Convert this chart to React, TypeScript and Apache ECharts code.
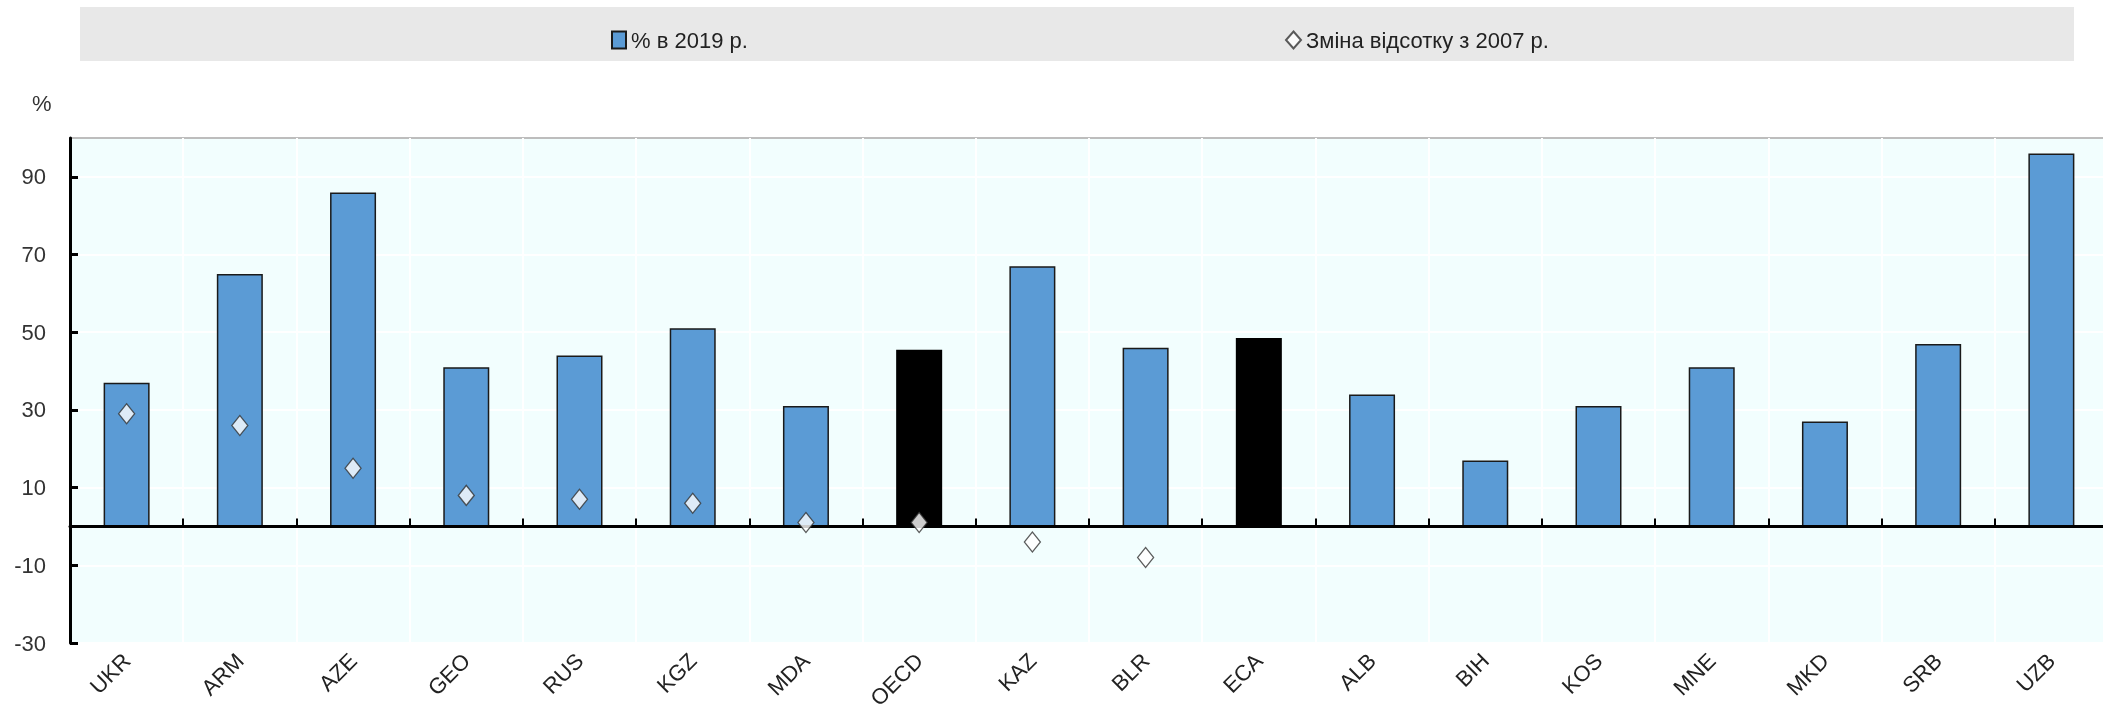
import React, { useEffect, useRef } from "react";
import * as echarts from "echarts";

const categories = ["UKR", "ARM", "AZE", "GEO", "RUS", "KGZ", "MDA", "OECD", "KAZ", "BLR", "ECA", "ALB", "BIH", "KOS", "MNE", "MKD", "SRB", "UZB"];
const share2019 = [37, 65, 86, 41, 44, 51, 31, 45.5, 67, 46, 48.5, 34, 17, 31, 41, 27, 47, 96];
const change2007: (number | null)[] = [29, 26, 15, 8, 7, 6, 1, 1, -4, -8, null, null, null, null, null, null, null, null];
const highlighted = ["OECD", "ECA"];
const yTicks = [-30, -10, 10, 30, 50, 70, 90];
const barName = "% в 2019 р.";
const pointName = "Зміна відсотку з 2007 р.";

const FONT = "'Liberation Sans Narrow', 'Arial Narrow', 'Liberation Sans', Arial, sans-serif";

export default function App() {
  const ref = useRef<HTMLDivElement>(null);
  useEffect(() => {
    if (!ref.current) return;
    const chart = echarts.init(ref.current, null, { renderer: "svg" });
    chart.setOption({
      animation: false,
      textStyle: { fontFamily: FONT },
      graphic: [
        { type: "rect", z: -1, shape: { x: 80, y: 7, width: 1994, height: 54 }, style: { fill: "#e8e8e8" } },
        { type: "text", x: 32, y: 92, style: { text: "%", fill: "#333", font: `22px ${FONT}` } },
      ],
      legend: [
        {
          data: [{ name: barName, icon: "rect" }],
          left: 606,
          top: 24,
          itemWidth: 14,
          itemHeight: 17,
          itemGap: 6,
          textStyle: { fontSize: 22, color: "#222", fontFamily: FONT },
        },
        {
          data: [pointName],
          left: 1280,
          top: 24,
          itemWidth: 15,
          itemHeight: 17,
          textStyle: { fontSize: 22, color: "#222", fontFamily: FONT },
        },
      ],
      grid: {
        left: 70,
        top: 138,
        width: 2038,
        height: 505,
        outerBoundsMode: "none",
        containLabel: false,
        show: true,
        backgroundColor: "#f2fefe",
        borderColor: "#bdbdbd",
        borderWidth: 2,
      },
      xAxis: [
        {
          type: "category",
          data: categories,
          position: "bottom",
          axisLine: { show: true, onZero: true, lineStyle: { color: "#000", width: 3 } },
          axisTick: { show: true, inside: true, length: 8, lineStyle: { color: "#000", width: 2 } },
          axisLabel: { show: false },
          splitLine: { show: false },
          z: 5,
        },
        {
          type: "category",
          data: categories,
          position: "bottom",
          axisLine: { show: false, onZero: false },
          axisTick: { show: false },
          axisLabel: { show: true, rotate: 45, fontSize: 22, color: "#222", margin: 14, fontFamily: FONT },
          splitLine: { show: true, lineStyle: { color: "#ffffff", width: 2 } },
          z: 0,
        },
      ],
      yAxis: {
        type: "value",
        min: -30,
        max: 100,
        interval: 20,
        axisLine: { show: true, lineStyle: { color: "#000", width: 3 } },
        axisTick: { show: true, inside: true, length: 8, customValues: yTicks, lineStyle: { color: "#000", width: 3 } },
        axisLabel: { show: true, customValues: yTicks, fontSize: 22, color: "#333", margin: 24, fontFamily: FONT },
        splitLine: { show: true, lineStyle: { color: "#ffffff", width: 2 } },
        z: 0,
      },
      series: [
        {
          name: barName,
          type: "bar",
          xAxisIndex: 0,
          barWidth: 46,
          itemStyle: { color: "#5b9bd5", borderColor: "#1a1a1a", borderWidth: 1.5 },
          data: share2019.map((v, i) =>
            highlighted.includes(categories[i])
              ? { value: v, itemStyle: { color: "#000000", borderColor: "#000000" } }
              : v
          ),
          z: 2,
        },
        {
          name: pointName,
          type: "scatter",
          xAxisIndex: 0,
          symbol: "diamond",
          symbolSize: [16, 20],
          itemStyle: { color: "#ffffff", borderColor: "#333333", borderWidth: 1.3 },
          data: change2007.map((v) => (v === null ? "-" : v)),
          z: 6,
        },
      ],
    });
    return () => chart.dispose();
  }, []);
  return <div ref={ref} style={{ position: "fixed", left: 0, top: 0, width: 2103, height: 710 }} />;
}
